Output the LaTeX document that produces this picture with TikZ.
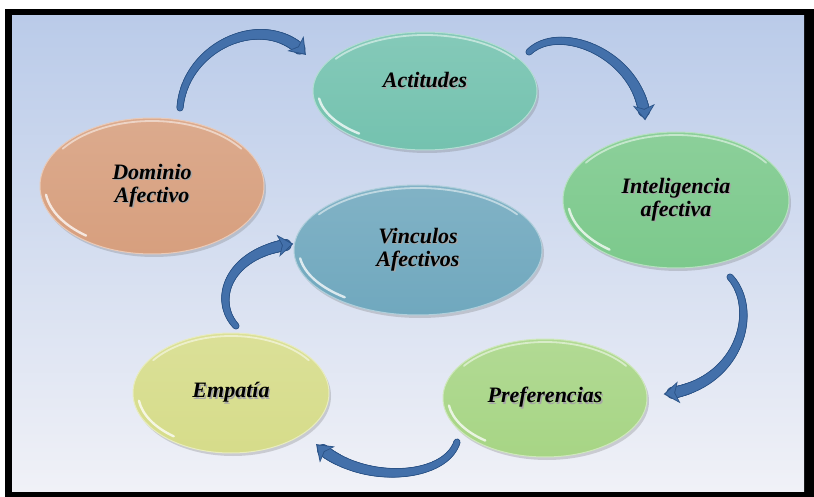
\documentclass[tikz,border=0pt]{standalone}
\usepackage{fontspec}
\setmainfont{Liberation Serif}
\newfontfamily\tnrfont{Liberation Serif}
\usetikzlibrary{arrows.meta,decorations.markings,shapes.geometric,shadows}
\definecolor{bgtop}{HTML}{BACBE9}
\definecolor{bgbot}{HTML}{F0F1F7}
\definecolor{arrowcol}{HTML}{4370AA}
\definecolor{arrowdark}{HTML}{2C5488}
\definecolor{cact}{HTML}{74C2AF}
\definecolor{cdom}{HTML}{D79F7E}
\definecolor{cvin}{HTML}{70A8BE}
\definecolor{cint}{HTML}{7CC98C}
\definecolor{cemp}{HTML}{D6DC8A}
\definecolor{cpre}{HTML}{A7D585}
\newcommand\shtxt[1]{\makebox[0pt][l]{\raisebox{-1.4pt}{\kern1.4pt\textcolor{black!35}{#1}}}#1}
\tikzset{
  elli/.style={ellipse, inner sep=0pt, align=center,
    font=\tnrfont\fontsize{22}{23}\selectfont\bfseries\itshape,
    top color=#1!88!white, bottom color=#1, draw=#1!55!white, line width=1pt,
    drop shadow={shadow xshift=2pt, shadow yshift=-3pt, opacity=0.25, fill=black!60}},
  gloss/.style={white, opacity=0.75, line width=2.4pt, line cap=round},
  bendarrow/.style={
    postaction={decorate, decoration={markings,
      mark=between positions 0 and 0.95 step 0.7pt with {
        \pgfmathsetmacro\rr{2.6+2.6*\pgfkeysvalueof{/pgf/decoration/mark info/distance from start}/\pgfdecoratedpathlength}
        \pgfmathsetmacro\ro{\rr+0.9}
        \fill[arrowdark] (0pt,0pt) circle[radius=\ro pt];}}},
    postaction={decorate, decoration={markings,
      mark=between positions 0 and 0.95 step 0.7pt with {
        \pgfmathsetmacro\rr{2.6+2.6*\pgfkeysvalueof{/pgf/decoration/mark info/distance from start}/\pgfdecoratedpathlength}
        \fill[arrowcol] (0pt,0pt) circle[radius=\rr pt];}}},
    postaction={decorate, decoration={markings,
      mark=at position 0.999 with {
        \fill[arrowdark] (1.5pt,0pt) -- (-14pt,11pt) -- (-10pt,0pt) -- (-14pt,-11pt) -- cycle;
        \fill[arrowcol] (-0.5pt,0pt) -- (-12.5pt,9pt) -- (-9pt,0pt) -- (-12.5pt,-9pt) -- cycle;}}}
  }
}
\begin{document}
\begin{tikzpicture}[x=1pt,y=-1pt]
\useasboundingbox (0,0) rectangle (814,497);
\fill[white] (0,0) rectangle (814,497);
\fill[black] (5,9) rectangle (814,497);
\shade[top color=bgtop, bottom color=bgbot] (12,16) rectangle (804,491);

% ellipses
\node[elli=cact, minimum width=224pt, minimum height=118pt, text depth=22pt] (act) at (425,91) {\shtxt{Actitudes}};
\node[elli=cdom, minimum width=224pt, minimum height=136pt] (dom) at (152,186) {\shtxt{Dominio}\\\shtxt{Afectivo}};
\node[elli=cvin, minimum width=248pt, minimum height=130pt] (vin) at (418,250) {\shtxt{Vinculos}\\\shtxt{Afectivos}};
\node[elli=cint, minimum width=226pt, minimum height=136pt] (int) at (676,200) {\shtxt{Inteligencia}\\\shtxt{afectiva}};
\node[elli=cemp, minimum width=196pt, minimum height=120pt] (emp) at (231,393) {\shtxt{Empatía}};
\node[elli=cpre, minimum width=204pt, minimum height=118pt] (pre) at (545,398) {\shtxt{Preferencias}};

% gloss highlights
\foreach \n/\rx/\ry in {act/112/59, dom/112/68, vin/124/65, int/113/68, emp/98/60, pre/102/59}{
  \draw[gloss] (\n.center) ++(172:{\rx-5} and {\ry-5}) arc[start angle=172, end angle=128, x radius=\rx-5, y radius=\ry-5];
  \draw[white, opacity=0.5, line width=1.8pt, line cap=round] (\n.center) ++(-35:{\rx-3} and {\ry-3}) arc[start angle=-35, end angle=-145, x radius=\rx-3, y radius=\ry-3];
}

% arrows
\coordinate (a1s) at (180,108); \coordinate (a1e) at (305,54);
\coordinate (a2s) at (529,52);  \coordinate (a2e) at (645,119);
\coordinate (a3s) at (730,277); \coordinate (a3e) at (665,394);
\coordinate (a4s) at (457,442); \coordinate (a4e) at (317,445);
\coordinate (a5s) at (236,326); \coordinate (a5e) at (292,244);
\path[bendarrow] (a1s) .. controls (185,45) and (265,10) .. (a1e);
\path[bendarrow] (a2s) .. controls (560,22) and (640,55) .. (a2e);
\path[bendarrow] (a3s) .. controls (760,310) and (740,385) .. (a3e);
\path[bendarrow] (a4s) .. controls (445,480) and (360,485) .. (a4e);
\path[bendarrow] (a5s) .. controls (212,300) and (228,252) .. (a5e);
\end{tikzpicture}
\end{document}
